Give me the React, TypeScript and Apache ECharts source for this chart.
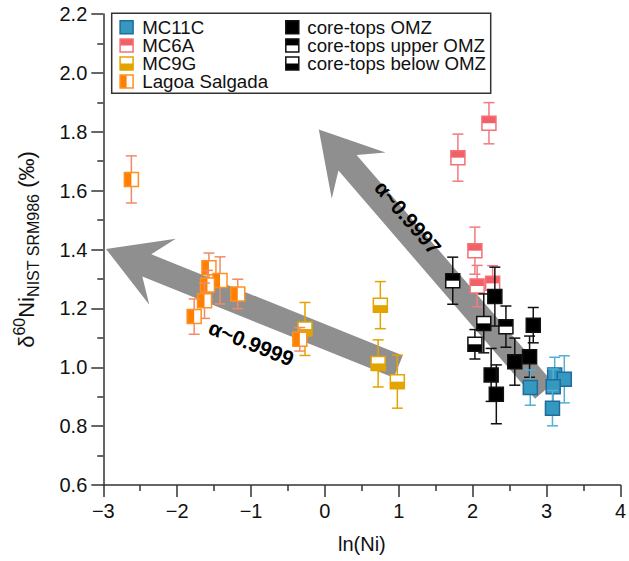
import { useEffect, useRef } from "react";
import * as echarts from "echarts";

const FONT = '"Liberation Sans", Arial, Helvetica, sans-serif';

// Each point: [ln(Ni), δ60Ni (‰), ± error]
const mc11c = [
  [2.78, 0.931, 0.06],
  [3.11, 0.974, 0.06],
  [3.24, 0.959, 0.08],
  [3.09, 0.934, 0.06],
  [3.08, 0.861, 0.06],
];
const mc6a = [
  [2.22, 1.829, 0.07],
  [1.8, 1.712, 0.08],
  [2.03, 1.396, 0.08],
  [2.06, 1.276, 0.07],
  [2.27, 1.285, 0.06],
];
const mc9g = [
  [-0.27, 1.13, 0.09],
  [0.75, 1.211, 0.08],
  [0.72, 1.013, 0.08],
  [0.98, 0.951, 0.09],
];
const lagoaSalgada = [
  [-2.62, 1.638, 0.08],
  [-1.57, 1.338, 0.05],
  [-1.42, 1.295, 0.08],
  [-1.59, 1.279, 0.05],
  [-1.18, 1.249, 0.05],
  [-1.63, 1.226, 0.06],
  [-1.77, 1.172, 0.06],
  [-0.34, 1.095, 0.04],
];
const coreTopsOmz = [
  [2.3, 1.24, 0.1],
  [2.82, 1.143, 0.06],
  [2.57, 1.019, 0.08],
  [2.77, 1.036, 0.07],
  [2.25, 0.974, 0.09],
  [2.32, 0.908, 0.1],
];
const coreTopsUpperOmz = [
  [1.73, 1.294, 0.08],
  [2.45, 1.138, 0.07],
];
const coreTopsBelowOmz = [
  [2.15, 1.149, 0.1],
  [2.03, 1.078, 0.05],
];

// Fractionation trend arrows: head tip and tail end in data units
const arrowTips = [
  [-2.964, 1.402],
  [-0.083, 1.808],
];
const arrowTails = [
  [0.993, 1.002],
  [2.968, 0.92],
];
const arrowLabels = ["α~0.9999", "α~0.9997"];

const xMin = -3;
const xMax = 4;
const xStep = 1;
const yMin = 0.6;
const yMax = 2.2;
const yStep = 0.2;

type Half = "full" | "top" | "bottom" | "left";
type Style = { fill: string; edge: string; bar: string; half: Half };

const groups: { name: string; data: number[][]; style: Style }[] = [
  { name: "MC11C", data: mc11c, style: { fill: "#3498c0", edge: "#1f6c9c", bar: "#55afd3", half: "full" } },
  { name: "MC6A", data: mc6a, style: { fill: "#f25f66", edge: "#f37077", bar: "#f27a80", half: "top" } },
  { name: "MC9G", data: mc9g, style: { fill: "#e3a400", edge: "#e3a400", bar: "#e3a400", half: "bottom" } },
  { name: "Lagoa Salgada", data: lagoaSalgada, style: { fill: "#ff8000", edge: "#ff9020", bar: "#f38a66", half: "left" } },
  { name: "core-tops OMZ", data: coreTopsOmz, style: { fill: "#000000", edge: "#111111", bar: "#111111", half: "full" } },
  { name: "core-tops upper OMZ", data: coreTopsUpperOmz, style: { fill: "#000000", edge: "#111111", bar: "#111111", half: "top" } },
  { name: "core-tops below OMZ", data: coreTopsBelowOmz, style: { fill: "#000000", edge: "#111111", bar: "#111111", half: "bottom" } },
];

// draw order: later entries on top
const drawOrder = ["MC9G", "Lagoa Salgada", "MC6A", "core-tops OMZ", "core-tops upper OMZ", "core-tops below OMZ", "MC11C"];

const SQ = 14;

function squareShapes(cx: number, cy: number, s: Style, size: number) {
  const h = size / 2;
  const x = cx - h;
  const y = cy - h;
  const out: any[] = [];
  if (s.half === "full") {
    out.push({ type: "rect", shape: { x, y, width: size, height: size }, style: { fill: s.fill, stroke: s.edge, lineWidth: 1.5 } });
    return out;
  }
  out.push({ type: "rect", shape: { x, y, width: size, height: size }, style: { fill: "#ffffff" } });
  let part;
  if (s.half === "top") part = { x, y, width: size, height: h };
  else if (s.half === "bottom") part = { x, y: cy, width: size, height: h };
  else part = { x, y, width: h, height: size };
  out.push({ type: "rect", shape: part, style: { fill: s.fill } });
  out.push({ type: "rect", shape: { x, y, width: size, height: size }, style: { fill: "none", stroke: s.edge, lineWidth: 1.5 } });
  return out;
}

function markerSeries(name: string, data: number[][], s: Style, z: number) {
  return {
    type: "custom",
    name,
    data,
    z,
    silent: true,
    clip: false,
    encode: { x: 0, y: 1 },
    renderItem: (_params: any, api: any) => {
      const x = api.value(0);
      const y = api.value(1);
      const e = api.value(2);
      const c = api.coord([x, y]);
      const t = api.coord([x, y + e]);
      const b = api.coord([x, y - e]);
      const cap = 5.5;
      const bar = { stroke: s.bar, lineWidth: 1.5 };
      return {
        type: "group",
        children: [
          { type: "line", shape: { x1: c[0], y1: t[1], x2: c[0], y2: b[1] }, style: bar },
          { type: "line", shape: { x1: c[0] - cap, y1: t[1], x2: c[0] + cap, y2: t[1] }, style: bar },
          { type: "line", shape: { x1: c[0] - cap, y1: b[1], x2: c[0] + cap, y2: b[1] }, style: bar },
          ...squareShapes(c[0], c[1], s, SQ),
        ],
      };
    },
  };
}

// label placement along each arrow (pixels back from the tip, pixels to the side)
const LABEL_PLACE = [
  [170, -33],
  [125, 10],
];

const arrowSeries = {
  type: "custom",
  name: "trends",
  z: 1,
  silent: true,
  clip: false,
  data: arrowTips.map((tip, i) => [tip[0], tip[1], arrowTails[i][0], arrowTails[i][1]]),
  encode: { x: [0, 2], y: [1, 3] },
  renderItem: (params: any, api: any) => {
    const i = params.dataIndex;
    const T = api.coord([api.value(0), api.value(1)]);
    const B = api.coord([api.value(2), api.value(3)]);
    const dx = T[0] - B[0];
    const dy = T[1] - B[1];
    const L = Math.hypot(dx, dy);
    const ux = dx / L;
    const uy = dy / L;
    const nx = -uy;
    const ny = ux;
    const p = (a: number, b: number) => [T[0] - ux * a + nx * b, T[1] - uy * a + ny * b];
    const w = 12;
    const pts = [
      T,
      p(61, 35.5),
      p(44, w),
      [B[0] + nx * w, B[1] + ny * w],
      [B[0] - nx * w, B[1] - ny * w],
      p(44, -w),
      p(61, -35.5),
    ];
    const lp = p(LABEL_PLACE[i][0], LABEL_PLACE[i][1]);
    const rot = -Math.atan2(-uy, -ux);
    return {
      type: "group",
      children: [
        { type: "polygon", shape: { points: pts }, style: { fill: "#8f8f8f" } },
        {
          type: "text",
          x: lp[0],
          y: lp[1],
          rotation: rot,
          style: {
            text: arrowLabels[i],
            x: 0,
            y: 0,
            align: "center",
            verticalAlign: "middle",
            fill: "#000",
            fontSize: 21,
            fontWeight: "bold",
            fontFamily: FONT,
          },
        },
      ],
    };
  },
};

// legend block
const legendColumns = [
  ["MC11C", "MC6A", "MC9G", "Lagoa Salgada"],
  ["core-tops OMZ", "core-tops upper OMZ", "core-tops below OMZ"],
];

function legendGraphics() {
  const items: any[] = [
    {
      type: "rect",
      shape: { x: 111.7, y: 13.3, width: 379, height: 80 },
      style: { fill: "#fff", stroke: "#333", lineWidth: 1.5 },
      z: 10,
    },
  ];
  const iconX = [120, 285.7];
  const textX = [142.3, 307.3];
  const rowY = [27.3, 45.4, 63.5, 81.6];
  legendColumns.forEach((col, ci) => {
    col.forEach((name, ri) => {
      const g = groups.find((gr) => gr.name === name)!;
      const cy = rowY[ri];
      const shapes = squareShapes(iconX[ci] + 6.6, cy, g.style, 13);
      shapes.forEach((sh) => items.push({ ...sh, z: 11 }));
      items.push({
        type: "text",
        z: 11,
        style: {
          text: name,
          x: textX[ci],
          y: cy,
          align: "left",
          verticalAlign: "middle",
          fontSize: 18.7,
          lineHeight: 17,
          fontFamily: FONT,
          fill: "#111",
        },
      });
    });
  });
  return items;
}

const fmtX = (v: number) => (v < 0 ? "\u2212" + Math.abs(v) : String(v));

export default function App() {
  const ref = useRef<HTMLDivElement>(null);
  useEffect(() => {
    if (!ref.current) return;
    const chart = echarts.init(ref.current, null, { renderer: "svg" });
    const axisLine = { show: true, onZero: false, lineStyle: { color: "#333", width: 1.5 } };
    const ordered = drawOrder.map((n) => groups.find((g) => g.name === n)!);
    chart.setOption({
      animation: false,
      backgroundColor: "#ffffff",
      grid: { left: 103.3, right: 5.7, top: 14, bottom: 76, containLabel: false },
      xAxis: {
        type: "value",
        min: xMin,
        max: xMax,
        interval: xStep,
        name: "ln(Ni)",
        nameLocation: "middle",
        nameGap: 49,
        nameMoveOverlap: false,
        nameTextStyle: { fontSize: 20, fontFamily: FONT, color: "#111" },
        axisLine,
        axisTick: { show: true, inside: false, length: 12, lineStyle: { color: "#333", width: 1.5 } },
        minorTick: { show: true, splitNumber: 2, length: 6, lineStyle: { color: "#333", width: 1.5 } },
        splitLine: { show: false },
        axisLabel: { formatter: fmtX, fontSize: 20, fontFamily: FONT, color: "#111", margin: 16 },
      },
      yAxis: {
        type: "value",
        min: yMin,
        max: yMax,
        interval: yStep,
        name: "{d|δ}{sup|60}{n|Ni}{sub|NIST SRM986}{n| (‰)}",
        nameLocation: "middle",
        nameRotate: 90,
        nameGap: 62,
        nameMoveOverlap: false,
        nameTextStyle: {
          fontSize: 22,
          fontFamily: FONT,
          color: "#111",
          rich: {
            d: { fontSize: 22, fontFamily: FONT, color: "#111", lineHeight: 30, verticalAlign: "middle" },
            n: { fontSize: 22, fontFamily: FONT, color: "#111", lineHeight: 30, verticalAlign: "middle" },
            sup: { fontSize: 16, fontFamily: FONT, color: "#111", lineHeight: 16, verticalAlign: "top" },
            sub: { fontSize: 16, fontFamily: FONT, color: "#111", lineHeight: 16, verticalAlign: "bottom" },
          },
        },
        axisLine,
        axisTick: { show: true, inside: false, length: 12, lineStyle: { color: "#333", width: 1.5 } },
        minorTick: { show: true, splitNumber: 2, length: 6, lineStyle: { color: "#333", width: 1.5 } },
        splitLine: { show: false },
        axisLabel: { formatter: (v: number) => v.toFixed(1), fontSize: 20, fontFamily: FONT, color: "#111", margin: 16 },
      },
      graphic: legendGraphics(),
      series: [arrowSeries, ...ordered.map((g, i) => markerSeries(g.name, g.data, g.style, 2 + i))],
    });
    return () => chart.dispose();
  }, []);
  return <div ref={ref} style={{ position: "fixed", left: 0, top: 0, width: 629, height: 561, background: "#fff" }} />;
}
